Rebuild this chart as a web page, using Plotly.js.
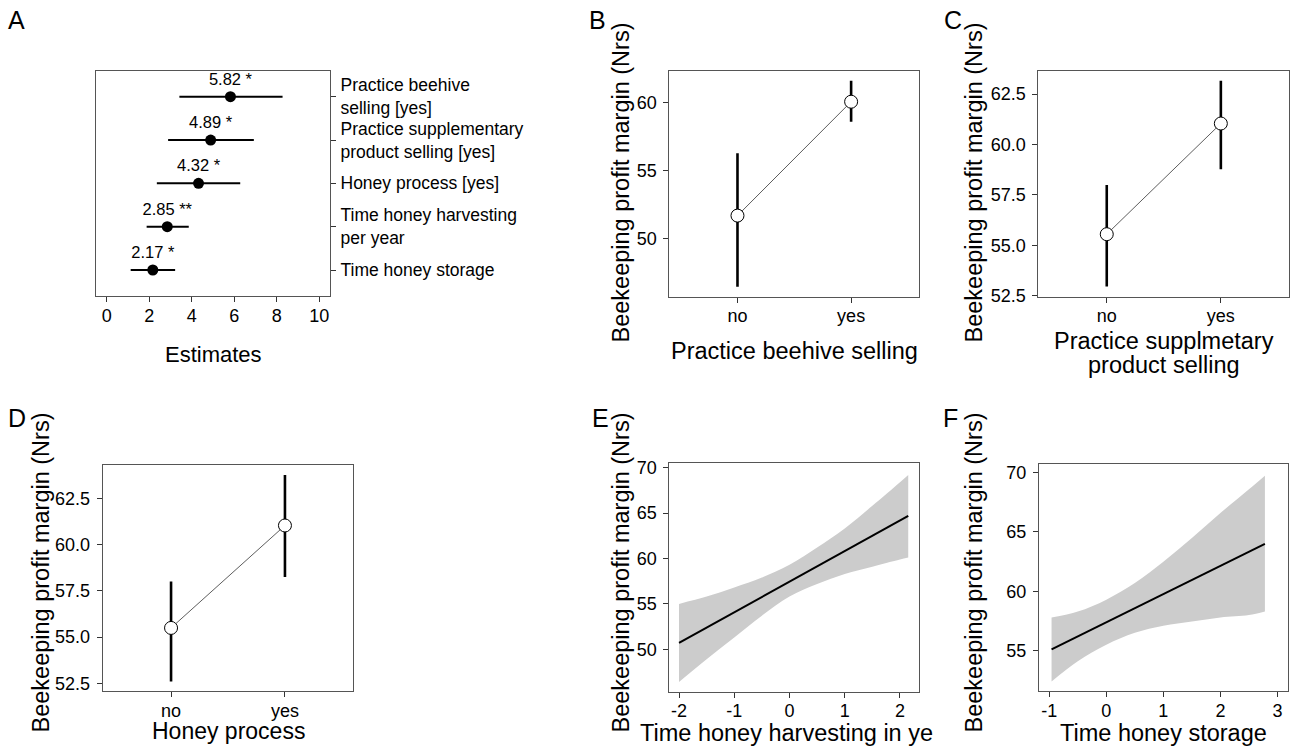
<!DOCTYPE html>
<html>
<head>
<meta charset="utf-8">
<script src="https://cdn.plot.ly/plotly-3.0.1.min.js"></script>
<style>html,body{margin:0;padding:0;background:#fff;}#chart{width:1290px;height:750px;}</style>
</head>
<body>
<div id="chart"></div>
<script>
// ---- Panel A: model estimates ----
const catsA = ["Practice beehive<br>selling [yes]", "Practice supplementary<br>product selling [yes]", "Honey process [yes]", "Time honey harvesting<br>per year", "Time honey storage"];
const estA = [5.82, 4.89, 4.32, 2.85, 2.17];
const loA = [3.42, 2.89, 2.36, 1.88, 1.13];
const hiA = [8.27, 6.92, 6.28, 3.86, 3.22];
const labelsA = ["5.82 *", "4.89 *", "4.32 *", "2.85 **", "2.17 *"];
const ticksA = [0, 2, 4, 6, 8, 10];

// ---- Panels B, C, D: categorical effects ----
const catsBin = ["no", "yes"];
const estB = [51.7, 60.07];
const loB = [46.47, 58.6];
const hiB = [56.28, 61.62];
const estC = [55.55, 61.04];
const loC = [52.95, 58.77];
const hiC = [57.99, 63.16];
const estD = [55.49, 61.03];
const loD = [52.59, 58.24];
const hiD = [58.0, 63.76];
const ticksB = [50, 55, 60];
const ticksCD = [52.5, 55.0, 57.5, 60.0, 62.5];

// ---- Panel E: time honey harvesting ----
const xLineE = [-2, 2.15];
const yLineE = [50.7, 64.7];
const xBandE = [-2, -1.5, -1, -0.5, 0, 0.5, 1, 1.5, 2, 2.15];
const upE = [55.0, 55.8, 56.8, 57.9, 59.3, 61.2, 63.3, 65.8, 68.4, 69.2];
const lowE = [46.4, 48.9, 51.3, 53.7, 55.8, 57.2, 58.3, 59.1, 59.9, 60.1];
const tickvalsE = [-2, -1, 0, 1, 2];
const ticktextE = ["-2", "-1", "0", "1", "2"];
const ticksYE = [50, 55, 60, 65, 70];

// ---- Panel F: time honey storage ----
const xLineF = [-0.96, 2.78];
const yLineF = [55.1, 64.0];
const xBandF = [-0.96, -0.5, 0, 0.5, 1, 1.5, 2, 2.5, 2.78];
const upF = [57.8, 58.3, 59.3, 60.7, 62.5, 64.5, 66.6, 68.6, 69.75];
const lowF = [52.4, 54.1, 55.5, 56.5, 57.1, 57.45, 57.8, 58.0, 58.3];
const tickvalsF = [-1, 0, 1, 2, 3];
const ticktextF = ["-1", "0", "1", "2", "3"];
const ticksYF = [55, 60, 65, 70];

const yTitle = "Beekeeping profit margin (Nrs)";

const W = 1290, H = 750;
const px = v => v / W;
const py = v => 1 - v / H;
const FONT = "Liberation Sans, Arial, Helvetica, sans-serif";

const idxA = catsA.map((_, i) => i);
const traces = [];

traces.push({
  x: estA, y: idxA, xaxis: "x", yaxis: "y", type: "scatter", mode: "markers+text",
  text: labelsA, textposition: "top center",
  textfont: {size: 16.5, color: "#000", family: FONT},
  marker: {size: 11, color: "#000"},
  error_x: {type: "data", symmetric: false,
    array: hiA.map((h, i) => h - estA[i]), arrayminus: estA.map((e, i) => e - loA[i]),
    thickness: 2, width: 0, color: "#000"},
  cliponaxis: false, hoverinfo: "skip"
});

function catPanel(est, lo, hi, xa, ya) {
  traces.push({x: catsBin, y: est, xaxis: xa, yaxis: ya, type: "scatter", mode: "lines",
    line: {color: "#333", width: 0.8}, hoverinfo: "skip"});
  traces.push({x: catsBin, y: est, xaxis: xa, yaxis: ya, type: "scatter", mode: "markers",
    marker: {size: 13, color: "#fff", line: {color: "#000", width: 1}},
    error_y: {type: "data", symmetric: false,
      array: hi.map((h, i) => h - est[i]), arrayminus: est.map((e, i) => e - lo[i]),
      thickness: 2.6, width: 0, color: "#000"},
    hoverinfo: "skip"});
}
catPanel(estB, loB, hiB, "x2", "y2");
catPanel(estC, loC, hiC, "x3", "y3");
catPanel(estD, loD, hiD, "x4", "y4");

function bandPanel(xb, up, low, xl, yl, xa, ya) {
  traces.push({x: xb, y: up, xaxis: xa, yaxis: ya, type: "scatter", mode: "lines",
    line: {width: 0, shape: "spline", color: "#cccccc"}, hoverinfo: "skip"});
  traces.push({x: xb, y: low, xaxis: xa, yaxis: ya, type: "scatter", mode: "lines",
    line: {width: 0, shape: "spline", color: "#cccccc"}, fill: "tonexty", fillcolor: "#cccccc", hoverinfo: "skip"});
  traces.push({x: xl, y: yl, xaxis: xa, yaxis: ya, type: "scatter", mode: "lines",
    line: {width: 2, color: "#000"}, hoverinfo: "skip"});
}
bandPanel(xBandE, upE, lowE, xLineE, yLineE, "x5", "y5");
bandPanel(xBandF, upF, lowF, xLineF, yLineF, "x6", "y6");

const axBase = {
  showline: true, mirror: true, linecolor: "#555", linewidth: 1,
  ticks: "outside", ticklen: 5, tickwidth: 1, tickcolor: "#333",
  showgrid: false, zeroline: false,
  tickfont: {size: 18, color: "#000", family: FONT},
  fixedrange: true
};
function ax(extra) { return Object.assign({}, axBase, extra); }
const XS = -2, YS = 3;

const layout = {
  width: W, height: H,
  margin: {l: 0, r: 0, t: 0, b: 0},
  paper_bgcolor: "#fff", plot_bgcolor: "#fff",
  showlegend: false,
  font: {family: FONT, color: "#000"},
  xaxis: ax({domain: [px(96), px(330)], range: [-0.5, 10.5], tickvals: ticksA, anchor: "y", ticklabelstandoff: XS}),
  yaxis: ax({domain: [py(296), py(70.7)], range: [4.6, -0.6], tickvals: idxA, ticktext: catsA,
    side: "right", anchor: "x", tickfont: {size: 17.5, color: "#000", family: FONT}, ticklabelstandoff: 1}),

  xaxis2: ax({domain: [px(669.3), px(919.3)], type: "category", categoryarray: catsBin, range: [-0.6, 1.6], anchor: "y2", ticklabelstandoff: XS}),
  yaxis2: ax({domain: [py(296.7), py(70.7)], range: [45.74, 62.35], tickvals: ticksB, anchor: "x2", ticklabelstandoff: YS}),

  xaxis3: ax({domain: [px(1038.3), px(1289.3)], type: "category", categoryarray: catsBin, range: [-0.6, 1.6], anchor: "y3", ticklabelstandoff: XS}),
  yaxis3: ax({domain: [py(296.7), py(70.7)], range: [52.45, 63.66], tickvals: ticksCD, tickformat: ".1f", anchor: "x3", ticklabelstandoff: YS}),

  xaxis4: ax({domain: [px(102.7), px(353.3)], type: "category", categoryarray: catsBin, range: [-0.6, 1.6], anchor: "y4", ticklabelstandoff: XS}),
  yaxis4: ax({domain: [py(691), py(465)], range: [52.08, 64.3], tickvals: ticksCD, tickformat: ".1f", anchor: "x4", ticklabelstandoff: YS}),

  xaxis5: ax({domain: [px(669.3), px(919.3)], range: [-2.176, 2.35], tickvals: tickvalsE, ticktext: ticktextE, anchor: "y5", ticklabelstandoff: XS}),
  yaxis5: ax({domain: [py(691.7), py(463.3)], range: [45.33, 70.48], tickvals: ticksYE, anchor: "x5", ticklabelstandoff: YS}),

  xaxis6: ax({domain: [px(1039), px(1288.3)], range: [-1.18, 3.19], tickvals: tickvalsF, ticktext: ticktextF, anchor: "y6", ticklabelstandoff: XS}),
  yaxis6: ax({domain: [py(691), py(464)], range: [51.6, 70.73], tickvals: ticksYF, anchor: "x6", ticklabelstandoff: YS}),
  annotations: []
};

function ann(text, x, y, size, opts) {
  layout.annotations.push(Object.assign({
    text: text, xref: "paper", yref: "paper", x: px(x), y: py(y),
    xanchor: "center", yanchor: "middle", showarrow: false,
    font: {size: size, color: "#000", family: FONT}
  }, opts || {}));
}
// panel letters
ann("A", 16.5, 19.5, 25);
ann("B", 597, 19.5, 25);
ann("C", 953, 19.5, 25);
ann("D", 17, 418, 25);
ann("E", 600, 418, 25);
ann("F", 951, 418, 25);
// axis titles
ann("Estimates", 213, 354, 22);
ann("Practice beehive selling", 794.3, 351, 23.5);
ann("Practice supplmetary", 1163.8, 341, 23.5);
ann("product selling", 1163.8, 365, 23.5);
ann("Honey process", 228, 731, 23);
ann("Time honey harvesting in ye", 638, 733, 23.5, {xanchor: "left"});
ann("Time honey storage", 1163.7, 733, 23.5);
ann(yTitle, 620, 182.5, 23.5, {textangle: -90});
ann(yTitle, 973, 182.5, 23.5, {textangle: -90});
ann(yTitle, 40, 572.5, 23.5, {textangle: -90});
ann(yTitle, 620, 572.5, 23.5, {textangle: -90});
ann(yTitle, 973, 572.5, 23.5, {textangle: -90});

Plotly.newPlot("chart", traces, layout, {displayModeBar: false, staticPlot: true});
</script>
</body>
</html>
